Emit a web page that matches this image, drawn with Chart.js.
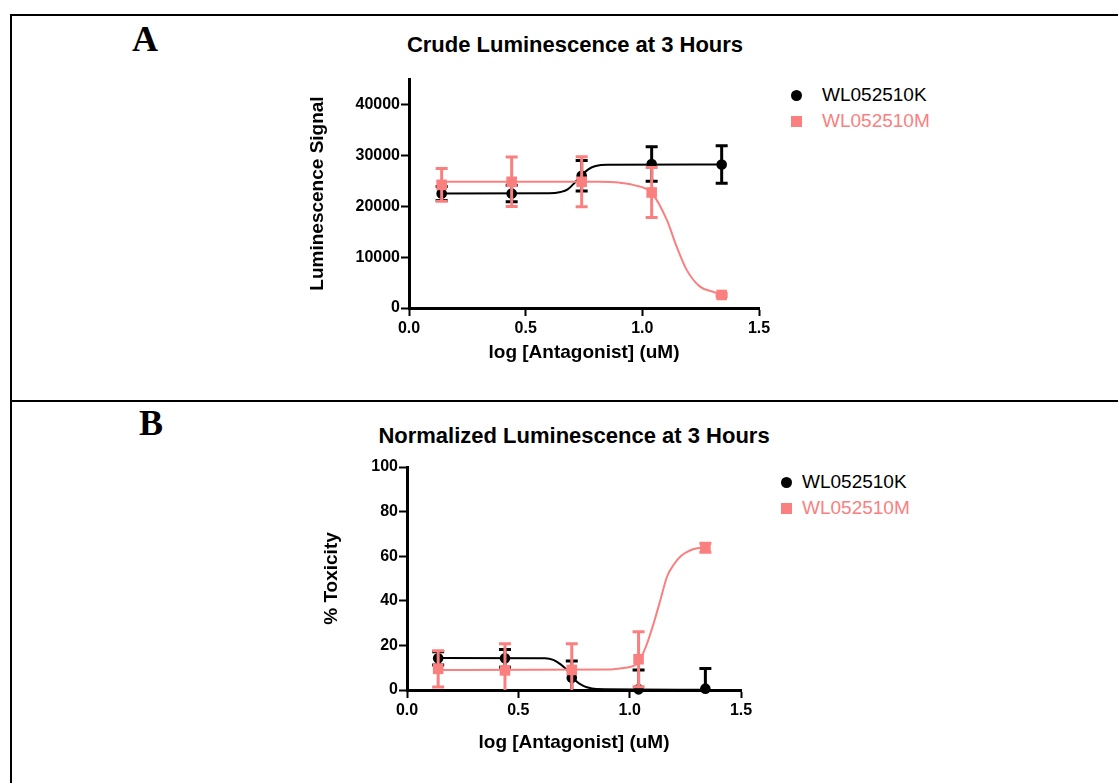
<!DOCTYPE html>
<html><head><meta charset="utf-8">
<script src="https://cdn.jsdelivr.net/npm/chart.js@4/dist/chart.umd.min.js"></script>
<style>
body{margin:0;width:1118px;height:783px;background:#fff;position:relative;overflow:hidden;font-family:"Liberation Sans",Arial,sans-serif}
.ln{position:absolute;background:#000}
.lab{position:absolute;font-family:"Liberation Serif","Times New Roman",serif;font-weight:bold;font-size:36px;line-height:36px}
.ttl{position:absolute;font-weight:bold;font-size:22px;line-height:24px;transform:translateX(-50%);white-space:nowrap;color:#000}
.leg{position:absolute;font-size:19px;line-height:22px;white-space:nowrap}
.mk{position:absolute}
.box{position:absolute}
</style></head><body>
<div class="ln" style="left:10px;top:14px;width:1108px;height:2px"></div>
<div class="ln" style="left:10px;top:14px;width:2px;height:769px"></div>
<div class="ln" style="left:10px;top:400px;width:1108px;height:2px"></div>
<div class="lab" style="left:132px;top:21px">A</div>
<div class="lab" style="left:139px;top:405px">B</div>
<div class="ttl" style="left:575px;top:33px">Crude Luminescence at 3 Hours</div>
<div class="ttl" style="left:574px;top:424px">Normalized Luminescence at 3 Hours</div>
<div id="legA"></div><div id="legB"></div>
<div class="box" style="left:300px;top:60px;width:480px;height:310px"><canvas id="cA" width="480" height="310"></canvas></div>
<div class="box" style="left:300px;top:440px;width:460px;height:320px"><canvas id="cB" width="460" height="320"></canvas></div>
<script>
// ---- data ----
const xLog = [0.14, 0.44, 0.74, 1.04, 1.34];
const seriesNames = ['WL052510K', 'WL052510M'];
const seriesColors = ['#000000', '#FA8080'];
const xTickVals = [0, 0.5, 1.0, 1.5];
const crudeTickVals = [0, 10000, 20000, 30000, 40000];
const normTickVals = [0, 20, 40, 60, 80, 100];

// Panel A: crude luminescence
const crudeK = [22500, 22500, 26000, 28300, 28200];
const crudeKErr = [1400, 1600, 3000, 3400, 3700];
const crudeM = [24200, 24800, 24800, 22700, 2560];
const crudeMErr = [3200, 4850, 4900, 4900, 300];
const crudeFitKx = [0.14, 0.60, 0.65, 0.68, 0.71, 0.74, 0.77, 0.80, 0.85, 1.34];
const crudeFitKy = [22500, 22550, 22800, 23300, 24600, 26100, 27300, 27900, 28150, 28200];
const crudeFitMx = [0.14, 0.82, 0.90, 0.96, 1.04, 1.105, 1.147, 1.19, 1.247, 1.303, 1.34];
const crudeFitMy = [24800, 24800, 24650, 24200, 22600, 17300, 12060, 7490, 4200, 3200, 2560];

// Panel B: normalized luminescence (% toxicity)
const normK = [14.2, 14.2, 5.5, 0.3, 0.6];
const normKErr = [3, 4, 7.5, 8.7, 9];
const normM = [9.5, 8.8, 9.0, 13.8, 63.8];
const normMErr = [8.1, 11.9, 11.7, 12.3, 2];
const normFitKx = [0.14, 0.62, 0.657, 0.69, 0.718, 0.74, 0.763, 0.79, 0.808, 0.85, 1.34];
const normFitKy = [14.3, 14.2, 13.5, 11.5, 9.0, 6.4, 3.7, 2.0, 1.2, 0.4, 0.1];
const normFitMx = [0.14, 0.90, 0.98, 1.017, 1.04, 1.075, 1.108, 1.138, 1.168, 1.20, 1.228, 1.288, 1.34];
const normFitMy = [9.0, 9.2, 10.0, 10.8, 12.5, 20, 30, 40.4, 50.9, 56.5, 59.9, 63.2, 64];

// ---- helpers ----
const zip = (xs, ys) => xs.map((x, i) => ({x, y: ys[i]}));
Chart.defaults.font.family = '"Liberation Sans", Arial, sans-serif';
Chart.defaults.color = '#000';

const errorBars = {
  id: 'errorBars',
  beforeDatasetDraw(chart, args) {
    const ds = chart.data.datasets[args.index];
    if (!ds.errors) return;
    const xs = chart.scales.x, ys = chart.scales.y, ctx = chart.ctx, a = chart.chartArea;
    ctx.save();
    ctx.beginPath();
    ctx.rect(a.left - 20, a.top, a.right - a.left + 40, a.bottom - a.top);
    ctx.clip();
    ctx.strokeStyle = ds.borderColor;
    ctx.lineWidth = 3;
    ds.data.forEach((p, i) => {
      const e = ds.errors[i];
      const px = xs.getPixelForValue(p.x);
      const yt = ys.getPixelForValue(p.y + e), yb = ys.getPixelForValue(p.y - e);
      ctx.beginPath();
      ctx.moveTo(px, yt); ctx.lineTo(px, yb);
      ctx.moveTo(px - 6, yt); ctx.lineTo(px + 6, yt);
      ctx.moveTo(px - 6, yb); ctx.lineTo(px + 6, yb);
      ctx.stroke();
    });
    ctx.restore();
  }
};

function scales(yTicks, yMax, yTitle, yTitlePad, xAxisH, yAxisW) {
  const tickFont = {size: 16, weight: 'bold'};
  const titleFont = {size: 19, weight: 'bold'};
  return {
    x: {
      type: 'linear', min: 0, max: 1.5,
      afterBuildTicks: s => { s.ticks = xTickVals.map(v => ({value: v})); },
      afterFit: s => { s.height = xAxisH; },
      ticks: {font: tickFont, color: '#000', padding: 3, maxRotation: 0, autoSkip: false, callback: v => Number(v).toFixed(1)},
      grid: {drawOnChartArea: false, tickLength: 8, tickWidth: 2, tickColor: '#000'},
      border: {color: '#000', width: 3},
      title: {display: true, text: 'log [Antagonist] (uM)', font: titleFont, color: '#000', padding: {top: 0, bottom: 5.6}}
    },
    y: {
      type: 'linear', min: 0, max: yMax,
      afterBuildTicks: s => { s.ticks = yTicks.map(v => ({value: v})); },
      afterFit: s => { s.width = yAxisW; },
      ticks: {font: tickFont, color: '#000', padding: 1, autoSkip: false, callback: v => String(v)},
      grid: {drawOnChartArea: false, tickLength: 8, tickWidth: 2, tickColor: '#000'},
      border: {color: '#000', width: 3},
      title: {display: true, text: yTitle, font: titleFont, color: '#000', padding: {top: yTitlePad, bottom: 0}}
    }
  };
}

function datasets(kPts, kErr, mPts, mErr, kFit, mFit) {
  return [
    {label: seriesNames[1], data: mPts, errors: mErr, showLine: false, order: 0, clip: false,
     borderColor: seriesColors[1], backgroundColor: seriesColors[1], pointStyle: 'rect', pointRadius: 7.5, pointBorderWidth: 0},
    {label: seriesNames[1] + ' fit', data: mFit, showLine: true, order: 1, pointRadius: 0,
     borderColor: seriesColors[1], borderWidth: 2, cubicInterpolationMode: 'monotone'},
    {label: seriesNames[0], data: kPts, errors: kErr, showLine: false, order: 2, clip: false,
     borderColor: seriesColors[0], backgroundColor: seriesColors[0], pointStyle: 'circle', pointRadius: 5.3, pointBorderWidth: 0},
    {label: seriesNames[0] + ' fit', data: kFit, showLine: true, order: 3, pointRadius: 0,
     borderColor: seriesColors[0], borderWidth: 2, cubicInterpolationMode: 'monotone'}
  ];
}

function opts(sc, pad) {
  return {
    responsive: false, animation: false, devicePixelRatio: 1,
    layout: {padding: pad},
    plugins: {legend: {display: false}, tooltip: {enabled: false}, title: {display: false}},
    scales: sc
  };
}

new Chart(document.getElementById('cA'), {
  type: 'scatter',
  data: {datasets: datasets(zip(xLog, crudeK), crudeKErr, zip(xLog, crudeM), crudeMErr,
                            zip(crudeFitKx, crudeFitKy), zip(crudeFitMx, crudeFitMy))},
  options: opts(scales(crudeTickVals, 45000, 'Luminescence Signal', 6.6, 62, 109), {left: 0, top: 19, right: 21, bottom: 0}),
  plugins: [errorBars]
});
new Chart(document.getElementById('cB'), {
  type: 'scatter',
  data: {datasets: datasets(zip(xLog, normK), normKErr, zip(xLog, normM), normMErr,
                            zip(normFitKx, normFitKy), zip(normFitMx, normFitMy))},
  options: opts(scales(normTickVals, 100, '% Toxicity', 20.3, 70, 107), {left: 0, top: 27, right: 19, bottom: 0}),
  plugins: [errorBars]
});

// HTML legends
function legend(id, mx, my, tx, gap) {
  const root = document.getElementById(id);
  seriesNames.forEach((name, i) => {
    const cy = my + i * gap;
    const m = document.createElement('div');
    m.className = 'mk';
    const s = 11;
    m.style.cssText = `left:${mx - s/2}px;top:${cy - s/2}px;width:${s}px;height:${s}px;background:${seriesColors[i]};border-radius:${i === 0 ? '50%' : '0'}`;
    root.appendChild(m);
    const t = document.createElement('div');
    t.className = 'leg';
    t.style.cssText = `left:${tx}px;top:${cy - 11}px;color:${seriesColors[i]}`;
    t.textContent = name;
    root.appendChild(t);
  });
}
legend('legA', 796, 95, 822, 26);
legend('legB', 786, 482, 802, 26);
</script>
</body></html>
